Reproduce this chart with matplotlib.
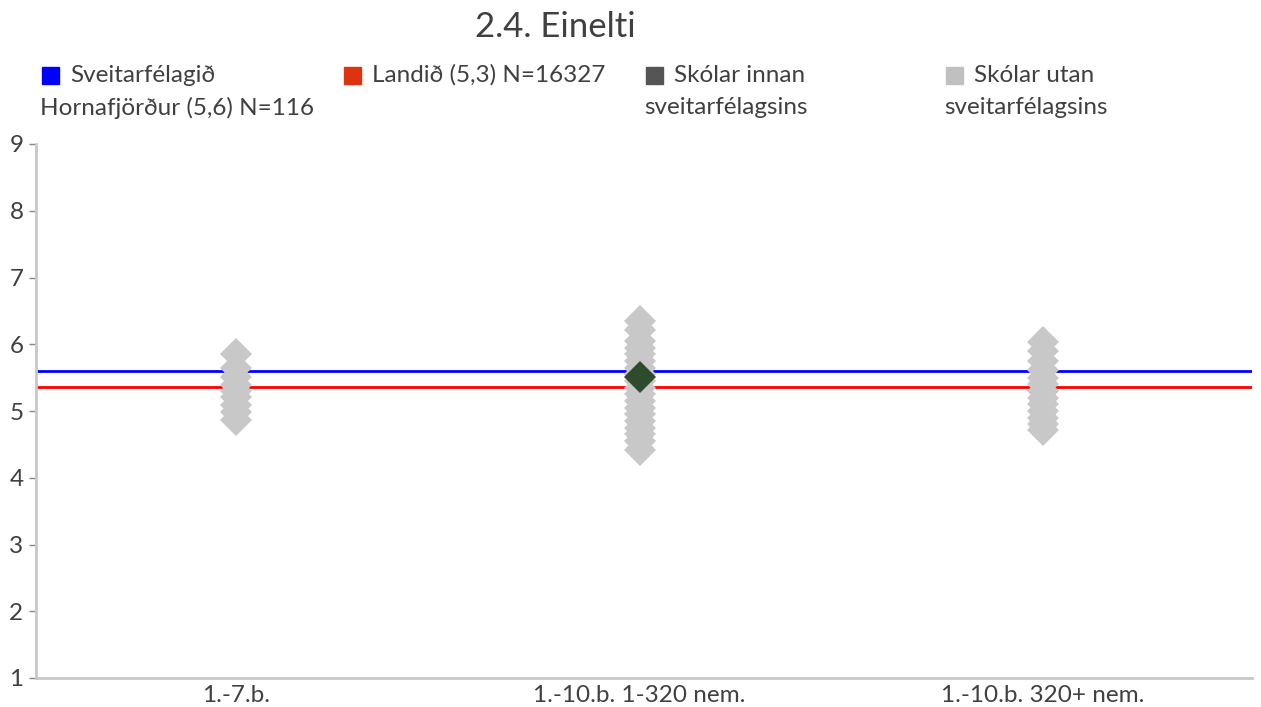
import matplotlib
matplotlib.use("Agg")
import matplotlib.pyplot as plt
from matplotlib.patches import Rectangle

plt.rcParams['font.family'] = ['Lato', 'DejaVu Sans']

title = "2.4. Einelti"
categories = ["1.-7.b.", "1.-10.b. 1-320 nem.", "1.-10.b. 320+ nem."]
municipality_value = 5.60
country_value = 5.36
municipality_label = "Sveitarfélagið\nHornafjörður (5,6) N=116"
country_label = "Landið (5,3) N=16327"
inside_label = "Skólar innan\nsveitarfélagsins"
outside_label = "Skólar utan\nsveitarfélagsins"

outside_1 = [5.85, 5.64, 5.51, 5.39, 5.30, 5.21, 5.09, 4.99, 4.87]
outside_2 = [6.35, 6.22, 6.05, 5.95, 5.85, 5.75, 5.65, 5.55, 5.45, 5.35, 5.25,
             5.15, 5.05, 4.95, 4.85, 4.75, 4.65, 4.55, 4.42]
outside_3 = [6.03, 5.90, 5.75, 5.62, 5.50, 5.40, 5.30, 5.20, 5.10, 5.00, 4.90,
             4.80, 4.72]
outside_values = [outside_1, outside_2, outside_3]
inside_cat = [1]
inside_values = [5.51]

yticks = [1, 2, 3, 4, 5, 6, 7, 8, 9]

W, H = 1261, 707
fig = plt.figure(figsize=(W / 100, H / 100), dpi=100)
ax = fig.add_axes([36 / W, 1 - 678 / H, (1252 - 36) / W, (678 - 144) / H])

ax.axhline(municipality_value, color="#0000FF", lw=2.0, zorder=2)
ax.axhline(country_value, color="#FF0000", lw=2.0, zorder=2)

for i, vals in enumerate(outside_values):
    ax.plot([i] * len(vals), vals, linestyle="none", marker="D", markersize=16,
            color="#C8C8C8", markeredgewidth=0, zorder=3)
ax.plot(inside_cat, inside_values, linestyle="none", marker="D", markersize=16.5,
        color="#2E4B2E", markeredgewidth=0, zorder=4)

ax.set_xlim(-0.496, 2.518)
ax.set_ylim(1, 9)
ax.set_yticks(yticks)
ax.set_xticks(range(len(categories)))
ax.set_xticklabels(categories)
for s in ["top", "right"]:
    ax.spines[s].set_visible(False)
for s in ["left", "bottom"]:
    ax.spines[s].set_color("#C8C8C8")
    ax.spines[s].set_linewidth(2)
ax.tick_params(axis="y", length=5, width=1, color="#888888", labelsize=17.5,
               labelcolor="#404040", pad=4)
ax.tick_params(axis="x", length=0, labelsize=17.5, labelcolor="#404040", pad=5)

fig.text(555 / W, 1 - 27 / H, title, ha="center", va="center", fontsize=25,
         color="#404040")

legend_items = [
    (42, "#0000FF", municipality_label),
    (344, "#DD3311", country_label),
    (646, "#555555", inside_label),
    (946, "#C0C0C0", outside_label),
]
for x, c, lab in legend_items:
    fig.patches.append(Rectangle((x / W, 1 - 84 / H), 17 / W, 17 / H,
                                 transform=fig.transFigure, color=c))
    lines = lab.split("\n")
    fig.text((x + 28) / W, 1 - 75 / H, lines[0], ha="left", va="center",
             fontsize=17.5, color="#404040")
    if len(lines) > 1:
        fig.text((x - 2) / W, 1 - 108 / H, lines[1], ha="left", va="center",
                 fontsize=17.5, color="#404040")

fig.savefig("out.png", dpi=100)
